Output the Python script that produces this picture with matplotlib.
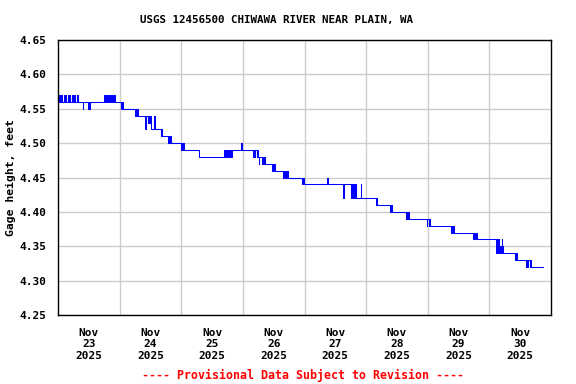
import numpy as np
import matplotlib
matplotlib.use('Agg')
import matplotlib.pyplot as plt
from matplotlib.ticker import FixedLocator, MultipleLocator


##############################################################################
# gage readings, (hours since Nov 23 00:00, gage height in feet)
# step changes only

nov23 = [(0.0, 4.56), (0.3, 4.57), (0.6, 4.56), (1.1, 4.57), (1.4, 4.56),
         (2.4, 4.57), (2.6, 4.56), (3.0, 4.57), (3.2, 4.56),
         (4.0, 4.57), (4.2, 4.56), (4.6, 4.57), (4.8, 4.56),
         (5.3, 4.57), (5.5, 4.56), (6.0, 4.57), (6.2, 4.56),
         (6.6, 4.57), (6.8, 4.56), (7.3, 4.57), (7.6, 4.56),
         (9.6, 4.55), (9.8, 4.56), (11.8, 4.55), (12.0, 4.56),
         (12.4, 4.55), (12.6, 4.56),
         (17.8, 4.57), (18.2, 4.56), (18.4, 4.57), (18.8, 4.56),
         (19.0, 4.57), (19.5, 4.56),
         (20.0, 4.57), (20.2, 4.56), (20.6, 4.57), (20.8, 4.56),
         (21.2, 4.57), (21.5, 4.56), (21.8, 4.57), (22.3, 4.56)]

nov24 = [(24.5, 4.55), (24.8, 4.56), (25.2, 4.55),
         (30.0, 4.54), (30.3, 4.55), (30.7, 4.54), (30.9, 4.55), (31.2, 4.54),
         (33.9, 4.52), (34.2, 4.54), (34.9, 4.53), (35.1, 4.54),
         (35.6, 4.53), (35.8, 4.54), (36.1, 4.52), (37.4, 4.54), (37.6, 4.52),
         (40.1, 4.51), (40.3, 4.52), (40.6, 4.51),
         (43.0, 4.50), (43.2, 4.51), (43.7, 4.50), (43.9, 4.51), (44.1, 4.50),
         (47.9, 4.49), (48.1, 4.50), (48.6, 4.49), (48.8, 4.50)]

nov25 = [(49.1, 4.49), (55.0, 4.48),
         (64.7, 4.49), (64.9, 4.48), (65.2, 4.49), (65.4, 4.48),
         (65.8, 4.49), (66.0, 4.48), (66.4, 4.49), (66.6, 4.48),
         (67.0, 4.49), (67.2, 4.48), (67.7, 4.49), (71.3, 4.50), (71.6, 4.49)]

nov26 = [(76.1, 4.48), (76.3, 4.49), (76.7, 4.48), (76.9, 4.49),
         (77.4, 4.48), (77.6, 4.49), (77.9, 4.48), (78.1, 4.47), (78.3, 4.48),
         (79.6, 4.47), (79.8, 4.48), (80.3, 4.47), (80.5, 4.48), (80.7, 4.47),
         (83.2, 4.46), (83.4, 4.47), (83.8, 4.46), (84.3, 4.47), (84.5, 4.46),
         (87.8, 4.45), (88.0, 4.46), (88.5, 4.45), (88.7, 4.46),
         (89.2, 4.45), (89.4, 4.46), (89.7, 4.45),
         (95.2, 4.44), (95.4, 4.45), (95.8, 4.44)]

nov27 = [(104.9, 4.45), (105.1, 4.44), (111.1, 4.42), (111.4, 4.44),
         (114.2, 4.42), (114.4, 4.44), (114.9, 4.42), (115.1, 4.44),
         (115.5, 4.42), (116.0, 4.44), (116.2, 4.42), (117.9, 4.44),
         (118.1, 4.42)]

nov28 = [(123.9, 4.41), (124.1, 4.42), (124.4, 4.41),
         (129.3, 4.40), (129.5, 4.41), (129.9, 4.40),
         (135.6, 4.39), (135.8, 4.40), (136.3, 4.39), (136.5, 4.40),
         (136.8, 4.39), (143.6, 4.38), (143.8, 4.39)]

nov29 = [(144.3, 4.38), (144.5, 4.39), (144.7, 4.38),
         (152.9, 4.37), (153.1, 4.38), (153.6, 4.37), (153.8, 4.38),
         (154.1, 4.37), (161.8, 4.36), (162.0, 4.37), (162.5, 4.36),
         (162.7, 4.37), (163.0, 4.36)]

nov30 = [(170.6, 4.34), (170.8, 4.36), (171.2, 4.34), (171.4, 4.36),
         (171.8, 4.34), (172.0, 4.35), (172.4, 4.34), (172.8, 4.36),
         (173.0, 4.34), (173.3, 4.35), (173.5, 4.34),
         (178.0, 4.33), (178.2, 4.34), (178.6, 4.33),
         (182.3, 4.32), (182.5, 4.33), (183.0, 4.32), (183.2, 4.33),
         (183.7, 4.32), (183.9, 4.33), (184.2, 4.32), (188.8, 4.32)]

day_labels = ['Nov\n23\n2025', 'Nov\n24\n2025', 'Nov\n25\n2025', 'Nov\n26\n2025',
              'Nov\n27\n2025', 'Nov\n28\n2025', 'Nov\n29\n2025', 'Nov\n30\n2025']

title = 'USGS 12456500 CHIWAWA RIVER NEAR PLAIN, WA'
ylabel = 'Gage height, feet'
footer = '---- Provisional Data Subject to Revision ----'

##############################################################################

readings = nov23 + nov24 + nov25 + nov26 + nov27 + nov28 + nov29 + nov30
hours = np.array([r[0] for r in readings])
stage = np.array([r[1] for r in readings])

plt.rcParams['font.family'] = 'DejaVu Sans Mono'
plt.rcParams['font.weight'] = 'bold'

fig = plt.figure(figsize=(5.76, 3.84), dpi=100)
ax = fig.add_axes([58 / 576, 1 - 315 / 384, 493 / 576, 275 / 384])

ax.step(hours, stage, where='post', color='#0000ff', lw=0.75)

ax.set_xlim(0, 24 * len(day_labels))
ax.set_ylim(4.25, 4.65)

# labels at noon, grid at midnight
ax.xaxis.set_major_locator(FixedLocator([12 + 24 * i for i in range(len(day_labels))]))
ax.xaxis.set_minor_locator(FixedLocator([24 * i for i in range(1, len(day_labels))]))
ax.set_xticklabels(day_labels, fontsize=8, fontweight='bold')
ax.yaxis.set_major_locator(MultipleLocator(0.05))
ax.set_yticklabels(['%.2f' % v for v in ax.get_yticks()], fontsize=8, fontweight='bold')

ax.tick_params(axis='both', which='both', length=0)
ax.tick_params(axis='x', pad=9)
ax.tick_params(axis='y', pad=8)
ax.grid(which='minor', axis='x', color='#cccccc', lw=1.0)
ax.grid(which='major', axis='y', color='#cccccc', lw=1.0)
ax.set_axisbelow(True)
for s in ax.spines.values():
    s.set_linewidth(1.0)
    s.set_color('black')

ax.set_ylabel(ylabel, fontsize=8.2, fontweight='bold', labelpad=3)

fig.text(277 / 576, 1 - 20 / 384, title, ha='center', va='center', fontsize=7.8,
         fontweight='bold')
fig.text(303 / 576, 1 - 375 / 384, footer, ha='center', va='center', fontsize=8.4,
         fontweight='bold', color='#ff0000')

fig.savefig('out.png', dpi=100)
